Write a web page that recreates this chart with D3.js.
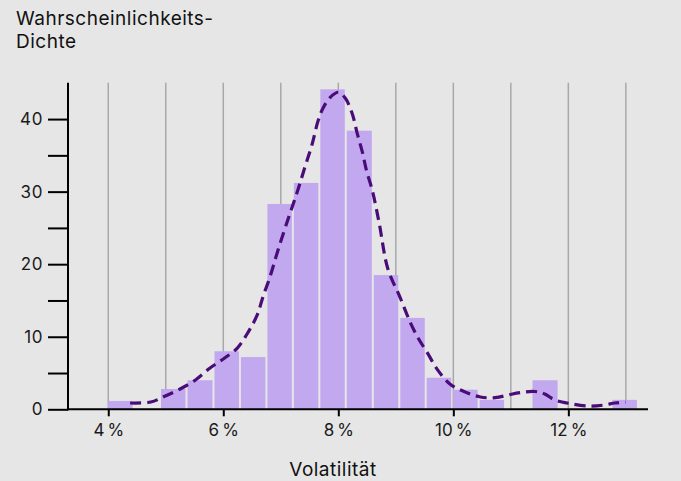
<!DOCTYPE html>
<html><head><meta charset="utf-8">
<script src="https://cdn.jsdelivr.net/npm/d3@7"></script>
<style>
html,body{margin:0;padding:0;background:#e6e6e6;}
svg{display:block;font-family:Inter, "Noto Sans", sans-serif;}
</style></head>
<body>
<svg id="c" width="681" height="481"></svg>
<script>
// Histogram bins (volatility in %) and densities
const binEdges = [3.98, 4.44, 4.90, 5.36, 5.83, 6.29, 6.75, 7.21, 7.67, 8.13, 8.60, 9.06, 9.52, 9.98, 10.44, 10.90, 11.36, 11.83, 12.29, 12.75, 13.21];
const binDensity = [1.15, 0, 2.8, 4.0, 8.0, 7.2, 28.3, 31.2, 44.1, 38.4, 18.5, 12.6, 4.35, 2.7, 1.3, 0, 4.0, 0, 0, 1.3];
// Kernel density estimate curve
const kdeX = [4.38, 4.74, 4.99, 5.25, 5.51, 5.77, 6.03, 6.24, 6.43, 6.59, 6.69, 6.81, 6.95, 7.13, 7.28, 7.42, 7.54, 7.65, 7.74, 7.86, 8.0, 8.12, 8.24, 8.33, 8.42, 8.49, 8.59, 8.71, 8.86, 9.07, 9.25, 9.39, 9.54, 9.73, 9.94, 10.2, 10.47, 10.73, 10.95, 11.16, 11.42, 11.59, 11.76, 12.02, 12.37, 12.63, 12.81, 13.0];
const kdeY = [0.87, 1.0, 1.83, 2.8, 4.0, 5.7, 7.1, 8.4, 10.6, 13.0, 15.5, 18.2, 21.9, 26.3, 29.8, 33.4, 36.4, 39.8, 41.6, 43.0, 43.7, 42.9, 40.8, 38.0, 35.4, 32.9, 30.2, 25.7, 19.4, 15.5, 12.0, 9.8, 7.9, 5.4, 3.5, 2.4, 1.7, 1.6, 1.97, 2.3, 2.45, 2.1, 1.3, 0.8, 0.45, 0.6, 0.87, 1.0];
const xTicks = [4, 6, 8, 10, 12];
const xGrid = [4, 5, 6, 7, 8, 9, 10, 11, 12, 13];
const yTicksMajor = [0, 10, 20, 30, 40];
const yTicksAll = [0, 5, 10, 15, 20, 25, 30, 35, 40];
const titleLines = ["Wahrscheinlichkeits-", "Dichte"];
const xLabel = "Volatilität";

const svg = d3.select("#c");
const x = d3.scaleLinear().domain([3.3, 13.385]).range([68, 648]);
const y = d3.scaleLinear().domain([0, 45]).range([409.3, 82.8]);

// grid
svg.append("g").selectAll("line").data(xGrid).join("line")
  .attr("x1", d => x(d)).attr("x2", d => x(d))
  .attr("y1", y(45)).attr("y2", y(0))
  .attr("stroke", "#a8a8a8").attr("stroke-width", 1.5);

// bars
const bins = binDensity.map((v, i) => ({x0: binEdges[i], x1: binEdges[i + 1], v}));
svg.append("g").selectAll("rect").data(bins.filter(b => b.v > 0)).join("rect")
  .attr("x", d => x(d.x0) + 1)
  .attr("width", d => x(d.x1) - x(d.x0) - 2)
  .attr("y", d => y(d.v))
  .attr("height", d => y(0) - y(d.v))
  .attr("fill", "#c2a8ef");

// KDE
const line = d3.line().x(d => x(d[0])).y(d => y(d[1])).curve(d3.curveCatmullRom);
svg.append("path").datum(kdeX.map((v, i) => [v, kdeY[i]]))
  .attr("d", line).attr("fill", "none")
  .attr("stroke", "#4a0c78").attr("stroke-width", 3.2)
  .attr("stroke-dasharray", "11,6");

// y axis
const yAxis = svg.append("g").attr("transform", `translate(${x(3.3)},0)`)
  .call(d3.axisLeft(y).tickValues(yTicksAll).tickSize(20).tickPadding(5)
    .tickFormat(d => yTicksMajor.includes(d) ? d : ""));
yAxis.select(".domain").remove();
yAxis.append("line").attr("x1", 0).attr("x2", 0).attr("y1", y(45)).attr("y2", y(0) + 1)
  .attr("stroke", "#000").attr("stroke-width", 2);
yAxis.selectAll(".tick line").attr("stroke", "#000").attr("stroke-width", 2);
yAxis.selectAll(".tick text").attr("font-size", 17).attr("fill", "#1a1a1a")
  .attr("font-family", "Inter, sans-serif").attr("letter-spacing", 0.6);

// x axis
const xAxis = svg.append("g").attr("transform", `translate(0,${y(0)})`)
  .call(d3.axisBottom(x).tickValues(xTicks).tickSize(7).tickPadding(8)
    .tickFormat(d => d + "\u202F%"));
xAxis.select(".domain").remove();
xAxis.append("line").attr("x1", x(3.3) - 1).attr("x2", x(13.385)).attr("y1", 0).attr("y2", 0)
  .attr("stroke", "#000").attr("stroke-width", 2);
xAxis.selectAll(".tick line").attr("stroke", "#000").attr("stroke-width", 2);
xAxis.selectAll(".tick text").attr("font-size", 17).attr("fill", "#1a1a1a")
  .attr("font-family", "Inter, sans-serif").attr("letter-spacing", 0.6);

// title
svg.append("text").attr("x", 16).attr("y", 25).attr("font-size", 19).attr("fill", "#111")
  .attr("letter-spacing", 0.5)
  .selectAll("tspan").data(titleLines).join("tspan")
  .attr("x", 16).attr("dy", (d, i) => i === 0 ? 0 : 23).text(d => d);

svg.append("text").attr("x", 333).attr("y", 476).attr("text-anchor", "middle")
  .attr("font-size", 19).attr("fill", "#111").attr("letter-spacing", 0.5).text(xLabel);
</script>
</body></html>
